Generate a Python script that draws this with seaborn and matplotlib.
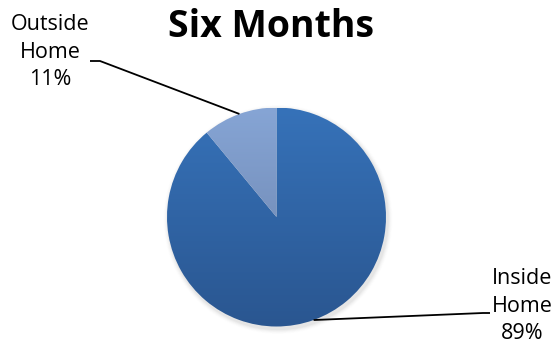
import numpy as np
import matplotlib
matplotlib.use("Agg")
import matplotlib.pyplot as plt
import seaborn as sns
from matplotlib.colors import LinearSegmentedColormap

# Share of time spent over six months
categories = ["Inside Home", "Outside Home"]
shares = [89, 11]
title = "Six Months"

sns.set_theme(style="white")
plt.rcParams["font.family"] = ["Open Sans", "DejaVu Sans"]

W, H = 560, 347
fig = plt.figure(figsize=(W / 100, H / 100), dpi=100)
ax = fig.add_axes([0, 0, 1, 1])

cx, cy, r = 276.5, H - 217.0, 109.5

# soft drop shadow under the pie
for i, a in enumerate(np.linspace(0.05, 0.012, 6)):
    ax.add_patch(plt.Circle((cx + 1.5, cy - 2.5), r + 1.0 + i * 0.8,
                            color="#808080", alpha=a, lw=0, zorder=0))

wedges, _ = ax.pie(shares, center=(cx, cy), radius=r, startangle=90,
                   counterclock=False, frame=True,
                   wedgeprops=dict(linewidth=0, edgecolor="none"))

# vertical gradient fills, clipped to each wedge
gradients = [("#3672B9", "#2A5690"), ("#86A5D5", "#687FA8")]
grad = np.linspace(0, 1, 256).reshape(-1, 1)
for w, (top, bottom) in zip(wedges, gradients):
    w.set_facecolor("none")
    cmap = LinearSegmentedColormap.from_list("g", [top, bottom])
    im = ax.imshow(grad, cmap=cmap, aspect="auto",
                   extent=(cx - r, cx + r, cy - r, cy + r),
                   origin="upper", zorder=1)
    im.set_clip_path(w)

ax.set_xlim(0, W)
ax.set_ylim(0, H)
ax.set_axis_off()

ax.text(271, H - 27, title, ha="center", va="center",
        fontsize=27, fontweight="bold", color="black")

label_pos = {"Inside Home": (522, H - 306), "Outside Home": (50, H - 52)}
elbows = {"Inside Home": [(483, H - 313), (490, H - 313)],
          "Outside Home": [(100, H - 61), (90, H - 61)]}

for w, cat, val in zip(wedges, categories, shares):
    mid = np.deg2rad((w.theta1 + w.theta2) / 2)
    px, py = cx + r * np.cos(mid), cy + r * np.sin(mid)
    pts = [(px, py)] + elbows[cat]
    xs, ys = zip(*pts)
    ax.plot(xs, ys, color="black", lw=1.3, solid_capstyle="butt", zorder=3)
    name = cat.replace(" ", "\n")
    lx, ly = label_pos[cat]
    ax.text(lx, ly, f"{name}\n{val}%", ha="center", va="center",
            fontsize=15.5, linespacing=1.4, color="black")

fig.savefig("out.png", dpi=100)
